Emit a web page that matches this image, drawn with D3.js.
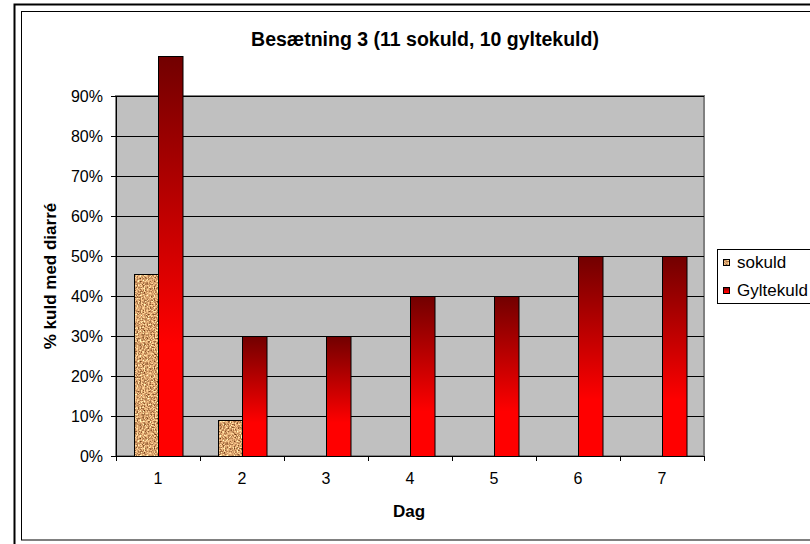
<!DOCTYPE html>
<html>
<head>
<meta charset="utf-8">
<script src="https://cdn.jsdelivr.net/npm/d3@7"></script>
<style>
body { margin: 0; background: #fff; }
svg { font-family: "Liberation Sans", Arial, sans-serif; }
</style>
</head>
<body>
<svg width="810" height="544"></svg>
<script>
// chart data
var days = ["1", "2", "3", "4", "5", "6", "7"];
var seriesNames = ["sokuld", "Gyltekuld"];
var sokuld = [0.4545, 0.0909, 0, 0, 0, 0, 0];
var gyltekuld = [1.0, 0.3, 0.3, 0.4, 0.4, 0.5, 0.5];
var yTicks = [0, 0.1, 0.2, 0.3, 0.4, 0.5, 0.6, 0.7, 0.8, 0.9];

var svg = d3.select("svg");
var defs = svg.append("defs");

// sand texture for sokuld
var f = defs.append("filter").attr("id", "sandNoise")
    .attr("x", 0).attr("y", 0).attr("width", 1).attr("height", 1)
    .attr("color-interpolation-filters", "sRGB");
f.append("feTurbulence").attr("type", "fractalNoise")
    .attr("baseFrequency", 0.7).attr("numOctaves", 2).attr("seed", 3).attr("result", "n");
f.append("feColorMatrix").attr("in", "n").attr("type", "matrix")
    .attr("values", "1.3 0 0 0 0.20  1.3 0 0 0 -0.01  1.1 0 0 0 -0.12  0 0 0 0 1");
var pat = defs.append("pattern").attr("id", "sand")
    .attr("patternUnits", "userSpaceOnUse").attr("width", 80).attr("height", 80);
pat.append("rect").attr("width", 80).attr("height", 80).attr("filter", "url(#sandNoise)");

// red gradient for gyltekuld
var grad = defs.append("linearGradient").attr("id", "redGrad")
    .attr("x1", 0).attr("y1", 0).attr("x2", 0).attr("y2", 1);
grad.append("stop").attr("offset", "0").attr("stop-color", "#720000");
grad.append("stop").attr("offset", "0.72").attr("stop-color", "#ff0000");
grad.append("stop").attr("offset", "1").attr("stop-color", "#ff0000");

// frames
svg.append("rect").attr("x", 14.5).attr("y", 4.5).attr("width", 830).attr("height", 560)
    .attr("fill", "none").attr("stroke", "#000").attr("stroke-width", 2);
svg.append("rect").attr("x", 21.5).attr("y", 11.5).attr("width", 820).attr("height", 528.5)
    .attr("fill", "none").attr("stroke", "#000").attr("stroke-width", 1);

var plotL = 116, plotR = 704, plotT = 96, plotB = 456;

var x = d3.scaleBand().domain(days).range([plotL, plotR])
    .paddingInner(35 / 84).paddingOuter(17.5 / 84);
var xs = d3.scaleBand().domain(seriesNames).range([0, x.bandwidth()]);
var y = d3.scaleLinear().domain([0, 0.9]).range([plotB, plotT]);

// plot area
svg.append("rect").attr("x", plotL).attr("y", plotT)
    .attr("width", plotR - plotL).attr("height", plotB - plotT)
    .attr("fill", "#c0c0c0").attr("stroke", "#808080").attr("stroke-width", 2);

// gridlines
svg.append("g").selectAll("line").data(yTicks.slice(1)).enter().append("line")
    .attr("x1", plotL).attr("x2", plotR)
    .attr("y1", function (d) { return Math.round(y(d)) + 0.5; })
    .attr("y2", function (d) { return Math.round(y(d)) + 0.5; })
    .attr("stroke", "#000");

// bars
var series = [
    { name: "sokuld", values: sokuld, fill: "url(#sand)" },
    { name: "Gyltekuld", values: gyltekuld, fill: "url(#redGrad)" }
];
series.forEach(function (s) {
    svg.append("g").selectAll("rect")
        .data(s.values.map(function (v, i) { return { day: days[i], v: v }; })
            .filter(function (d) { return d.v > 0; }))
        .enter().append("rect")
        .attr("x", function (d) { return Math.round(x(d.day) + xs(s.name)) + 0.5; })
        .attr("width", xs.bandwidth())
        .attr("y", function (d) { return Math.round(y(d.v)) + 0.5; })
        .attr("height", function (d) { return Math.round(plotB - y(d.v)); })
        .attr("fill", s.fill)
        .attr("stroke", "#000");
});

// y axis
var yAxis = svg.append("g").attr("transform", "translate(" + plotL + ",0)")
    .call(d3.axisLeft(y).tickValues(yTicks).tickFormat(d3.format(".0%")).tickSize(5).tickPadding(8));
yAxis.select(".domain").attr("stroke", "#000");
yAxis.selectAll("text").attr("font-size", 16).attr("fill", "#000")
    .attr("font-family", "Liberation Sans, Arial, sans-serif");

// x axis
var xb = d3.scaleLinear().domain([0, days.length]).range([plotL, plotR]);
var xAxis = svg.append("g").attr("transform", "translate(0," + plotB + ")")
    .call(d3.axisBottom(xb).ticks(days.length).tickFormat("").tickSize(5));
xAxis.select(".domain").attr("stroke", "#000");
svg.append("g").attr("transform", "translate(0," + plotB + ")")
    .call(d3.axisBottom(x).tickSize(0).tickPadding(17))
    .call(function (g) { g.select(".domain").remove(); })
    .selectAll("text").attr("font-size", 16).attr("fill", "#000")
    .attr("font-family", "Liberation Sans, Arial, sans-serif");

// titles
svg.append("text").attr("x", 425).attr("y", 46).attr("text-anchor", "middle")
    .attr("font-size", 19.5).attr("font-weight", "bold")
    .text("Besætning 3 (11 sokuld, 10 gyltekuld)");
svg.append("text").attr("x", 409).attr("y", 517).attr("text-anchor", "middle")
    .attr("font-size", 17).attr("font-weight", "bold").text("Dag");
svg.append("text").attr("transform", "translate(56,276) rotate(-90)")
    .attr("text-anchor", "middle").attr("font-size", 17).attr("font-weight", "bold")
    .text("% kuld med diarré");

// legend
var lg = svg.append("g");
lg.append("rect").attr("x", 717.5).attr("y", 249.5).attr("width", 120).attr("height", 54)
    .attr("fill", "#fff").attr("stroke", "#000");
series.forEach(function (s, i) {
    lg.append("rect").attr("x", 723.5).attr("y", 259.5 + i * 28).attr("width", 6).attr("height", 6)
        .attr("fill", s.fill).attr("stroke", "#000");
    lg.append("text").attr("x", 737).attr("y", 268 + i * 27.5).attr("font-size", 17).text(s.name);
});
</script>
</body>
</html>
